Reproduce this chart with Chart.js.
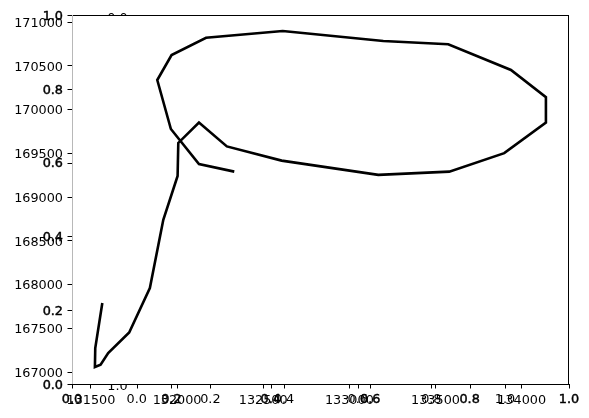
<!DOCTYPE html>
<html>
<head>
<meta charset="utf-8">
<script src="https://cdn.jsdelivr.net/npm/chart.js@4/dist/chart.umd.min.js"></script>
<style>
html,body{margin:0;padding:0;background:#fff;}
#wrap{width:589px;height:418px;}
</style>
</head>
<body>
<div id="wrap"><canvas id="c" width="589" height="418"></canvas></div>
<script>
// path data (x, y)
const xValues = [131566,131525,131523,131556,131600,131722,131842,131920,132003,132007,132127,132289,132607,133168,133580,133899,134141,134141,133938,133574,133197,132613,132168,131968,131885,131964,132127,132332];
const yValues = [167788,167274,167057,167083,167217,167452,167959,168739,169241,169618,169852,169578,169416,169253,169290,169501,169850,170140,170452,170745,170783,170897,170820,170623,170337,169777,169377,169290];
const xTicks = [131500,132000,132500,133000,133500,134000];
const yTicks = [167000,167500,168000,168500,169000,169500,170000,170500,171000];
const fracTicks = [0,0.2,0.4,0.6,0.8,1.0];

const FONT_SIZE = 12.8;
const FONT = FONT_SIZE + 'px "DejaVu Sans"';
const TEXT_DY = 1.5;

const points = xValues.map((x,i)=>({x:x,y:yValues[i]}));

function heavyText(ctx, s, x, y){
  ctx.fillText(s, x, y);
  ctx.lineWidth = 0.45;
  ctx.strokeText(s, x, y);
}

const decor = {
  id:'decor',
  beforeDraw(chart){
    const ctx = chart.ctx, a = chart.chartArea;
    const y3 = chart.scales.y3, x3 = chart.scales.x3;
    ctx.save();
    ctx.beginPath();
    ctx.rect(0,0,chart.width,chart.height);
    ctx.rect(a.left,a.top,a.right-a.left,a.bottom-a.top);
    ctx.clip('evenodd');
    ctx.font = FONT; ctx.fillStyle = '#000';
    ctx.textAlign = 'right'; ctx.textBaseline = 'middle';
    const xr = x3.getPixelForValue(0) - 9;
    fracTicks.forEach(v => ctx.fillText(v.toFixed(1), xr, y3.getPixelForValue(v) + TEXT_DY));
    ctx.restore();
  },
  afterDraw(chart){
    const ctx = chart.ctx, a = chart.chartArea;
    const x2 = chart.scales.x2, x3 = chart.scales.x3, y2 = chart.scales.y2;
    ctx.save();
    // spines
    ctx.lineWidth = 1;
    ctx.strokeStyle = '#000';
    ctx.beginPath();
    ctx.moveTo(a.left, a.top + 0.5); ctx.lineTo(a.right, a.top + 0.5);
    ctx.moveTo(a.right - 0.5, a.top); ctx.lineTo(a.right - 0.5, a.bottom);
    ctx.moveTo(a.left, a.bottom + 0.5); ctx.lineTo(a.right, a.bottom + 0.5);
    ctx.stroke();
    ctx.strokeStyle = '#b8b8b8';
    ctx.beginPath();
    ctx.moveTo(a.left + 0.5, a.top); ctx.lineTo(a.left + 0.5, a.bottom);
    ctx.stroke();
    // extra tick marks
    ctx.strokeStyle = '#000';
    ctx.beginPath();
    fracTicks.forEach(v => {
      const px = Math.round(x2.getPixelForValue(v)) + 0.5;
      ctx.moveTo(px, a.bottom); ctx.lineTo(px, a.bottom + 4.5);
      const qx = Math.round(x3.getPixelForValue(v)) + 0.5;
      ctx.moveTo(qx, a.bottom); ctx.lineTo(qx, a.bottom + 4.5);
      const py = Math.round(y2.getPixelForValue(v)) + 0.5;
      ctx.moveTo(a.left, py); ctx.lineTo(a.left - 4.5, py);
    });
    ctx.stroke();
    // extra labels
    ctx.font = FONT; ctx.fillStyle = '#000'; ctx.strokeStyle = '#000';
    ctx.textAlign = 'center'; ctx.textBaseline = 'top';
    fracTicks.forEach(v => {
      ctx.fillText(v.toFixed(1), x3.getPixelForValue(v), a.bottom + 9);
    });
    fracTicks.forEach(v => {
      heavyText(ctx, v.toFixed(1), x2.getPixelForValue(v), a.bottom + 9);
    });
    ctx.textAlign = 'right'; ctx.textBaseline = 'middle';
    fracTicks.forEach(v => {
      heavyText(ctx, v.toFixed(1), a.left - 9, y2.getPixelForValue(v) + TEXT_DY);
    });
    ctx.restore();
  }
};

new Chart(document.getElementById('c'), {
  type:'scatter',
  data:{datasets:[{
    data:points,
    showLine:true,
    borderColor:'#000',
    borderWidth:2.6,
    pointRadius:0,
    fill:false,
    tension:0,
    xAxisID:'x', yAxisID:'y'
  }]},
  options:{
    responsive:false,
    animation:false,
    devicePixelRatio:1,
    layout:{padding:{left:0,top:15,right:20,bottom:0}},
    plugins:{legend:{display:false},tooltip:{enabled:false}},
    scales:{
      x:{
        type:'linear', position:'bottom',
        min:131390, max:134275,
        afterBuildTicks(s){ s.ticks = xTicks.map(v=>({value:v})); },
        afterFit(s){ s.height = 34; },
        grid:{drawOnChartArea:false, drawTicks:true, tickLength:4.5, color:'#000', tickWidth:1},
        border:{display:false},
        ticks:{color:'#000', font:{family:'DejaVu Sans', size:FONT_SIZE}, padding:4.5, maxRotation:0, autoSkip:false,
          callback:(v)=>String(v)}
      },
      y:{
        type:'linear', position:'left',
        min:166863, max:171080,
        afterBuildTicks(s){ s.ticks = yTicks.map(v=>({value:v})); },
        afterFit(s){ s.width = 72; },
        grid:{drawOnChartArea:false, drawTicks:true, tickLength:4.5, color:'#000', tickWidth:1},
        border:{display:false},
        ticks:{color:'#000', font:{family:'DejaVu Sans', size:FONT_SIZE}, padding:4.5, autoSkip:false,
          labelOffset:TEXT_DY, callback:(v)=>String(v)}
      },
      x2:{type:'linear', display:false, min:0, max:1},
      x3:{type:'linear', display:false, min:-0.1757, max:1.1738},
      y2:{type:'linear', display:false, min:0, max:1},
      y3:{type:'linear', display:false, min:-0.005, max:0.997, reverse:true}
    }
  },
  plugins:[decor]
});
</script>
</body>
</html>
